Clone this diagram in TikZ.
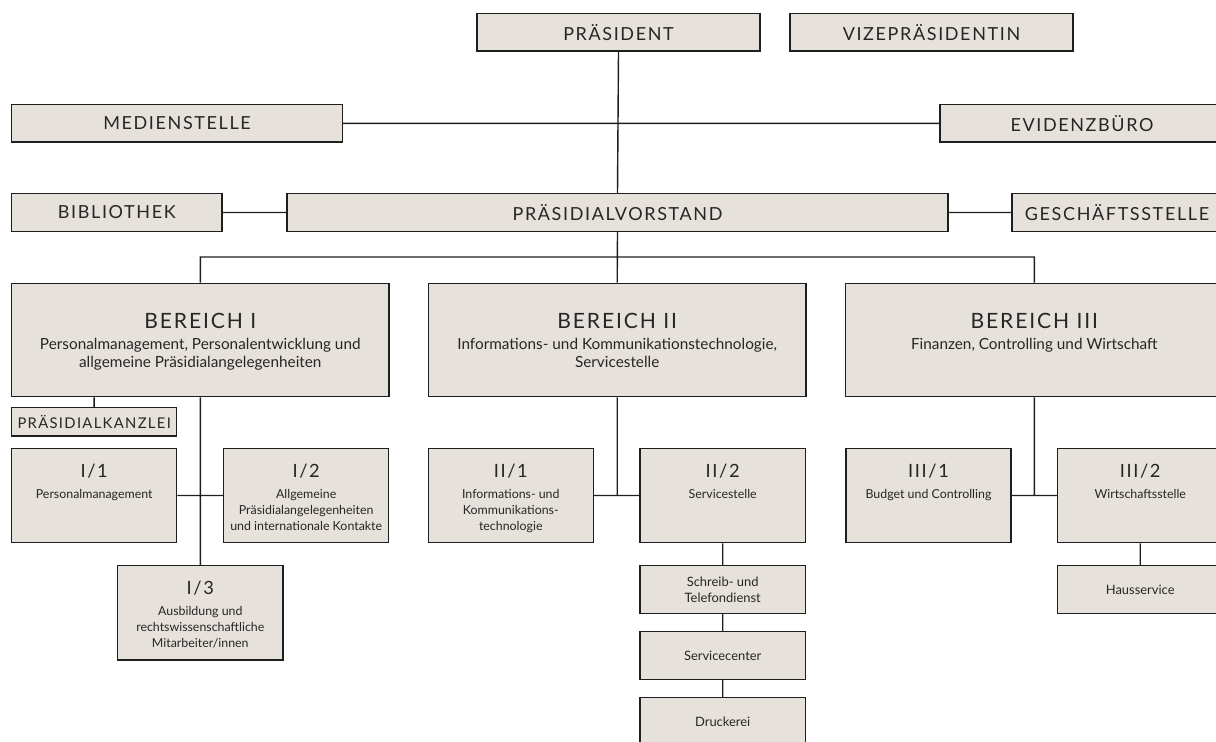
\documentclass[tikz,border=0pt]{standalone}
\usepackage{fontspec}
\setmainfont{Lato}
\newfontfamily\capsfont{Lato}[LetterSpace=9]
\definecolor{boxfill}{HTML}{E7E1DB}
\definecolor{boxline}{HTML}{1E1E1E}
\newdimen\pxu \pxu=0.7113pt
\newcommand{\headbox}[2]{\parbox[c][37.7\pxu][c]{#1\pxu}{\centering\capsfont\fontsize{12.8}{14}\selectfont #2}}
\newcommand{\tagbox}[1]{\parbox[c][28.3\pxu][c]{165\pxu}{\centering\capsfont\fontsize{10.5}{12}\selectfont #1}}
\newcommand{\areabox}[2]{\parbox[c][113.4\pxu][t]{377.3\pxu}{\centering\vspace*{21pt}{\capsfont\fontsize{15}{15}\selectfont #1\par}\vspace{2.6pt}\fontsize{10.9}{12.8}\selectfont #2\par}}
\newcommand{\unitbox}[2]{\parbox[c][94.4\pxu][t]{165\pxu}{\centering\vspace*{11.2pt}{\capsfont\fontsize{13}{13}\selectfont #1\par}\vspace{3.5pt}\fontsize{8.8}{11.4}\selectfont #2\par}}
\newcommand{\smallbox}[1]{\parbox[c][47.6\pxu][c]{165\pxu}{\centering\fontsize{9.2}{11.4}\selectfont #1}}
\tikzset{
	orgbox/.style={draw=boxline,fill=boxfill,line width=1pt,inner sep=0pt,rectangle,text=black!85},
	conn/.style={draw=boxline,line width=1pt},
}
\begin{document}
\begin{tikzpicture}[x=0.025cm,y=-0.025cm]
		\useasboundingbox (0,0) rectangle (1216,742);
		\clip (0,0) rectangle (1216,742);
		\node[orgbox] (pres) at (618.5,32.2) {\headbox{283}{PRÄSIDENT}};
		\node[orgbox] (vize) at (931.5,32.2) {\headbox{283}{VIZEPRÄSIDENTIN}};
		\node[orgbox] (medien) at (177,123.3) {\headbox{330.4}{MEDIENSTELLE}};
		\node[orgbox] (evidenz) at (1082,123.3) {\headbox{284}{EVIDENZBÜRO}};
		\node[orgbox] (biblio) at (116.8,212.5) {\headbox{210.4}{BIBLIOTHEK}};
		\node[orgbox] (vorstand) at (617.5,212.5) {\headbox{661}{PRÄSIDIALVORSTAND}};
		\node[orgbox] (gesch) at (1117,212.5) {\headbox{210}{GESCHÄFTSSTELLE}};
		\coordinate (bus) at (617.5,257);
		\node[orgbox] (b1) at (200.3,340) {\areabox{BEREICH I}{Personalmanagement, Personalentwicklung und\\allgemeine Präsidialangelegenheiten}};
		\node[orgbox] (b2) at (617.2,340) {\areabox{BEREICH II}{Informations- und Kommunikationstechnologie,\\Servicestelle}};
		\node[orgbox] (b3) at (1034.3,340) {\areabox{BEREICH III}{Finanzen, Controlling und Wirtschaft}};
		\node[orgbox] (kanzlei) at (94.2,421.8) {\tagbox{PRÄSIDIALKANZLEI}};
		\node[orgbox] (i1) at (94.2,495.5) {\unitbox{I/1}{Personalmanagement}};
		\node[orgbox] (i2) at (306.2,495.5) {\unitbox{I/2}{Allgemeine\\Präsidialangelegenheiten\\und internationale Kontakte}};
		\node[orgbox] (i3) at (200.3,612.8) {\unitbox{I/3}{Ausbildung und\\rechtswissenschaftliche\\Mitarbeiter/innen}};
		\node[orgbox] (ii1) at (510.8,495.5) {\unitbox{II/1}{Informations- und\\Kommunikations-\\technologie}};
		\node[orgbox] (ii2) at (722.7,495.5) {\unitbox{II/2}{Servicestelle}};
		\node[orgbox] (schreib) at (722.7,589.5) {\smallbox{Schreib- und\\Telefondienst}};
		\node[orgbox] (service) at (722.7,655.5) {\smallbox{Servicecenter}};
		\node[orgbox] (druck) at (722.7,721.5) {\smallbox{Druckerei}};
		\node[orgbox] (iii1) at (928.5,495.5) {\unitbox{III/1}{Budget und Controlling}};
		\node[orgbox] (iii2) at (1140.2,495.5) {\unitbox{III/2}{Wirtschaftsstelle}};
		\node[orgbox] (haus) at (1140.2,589.5) {\smallbox{Hausservice}};
		\draw[conn]
		(pres.south)--(vorstand.north)
		(medien.east)--(evidenz.west)
		(biblio.east)--(vorstand.west)
		(vorstand.east)--(gesch.west)
		(vorstand.south)--(b2.north)
		(b1.north)|-(bus)-|(b3.north)
		(kanzlei.north|-b1.south)--(kanzlei.north)
		(b1.south)--(i3.north)
		(i1.east)--(i2.west)
		(b2.south)--(b2.south|-ii1.east)
		(ii1.east)--(ii2.west)
		(ii2.south)--(schreib.north)
		(schreib.south)--(service.north)
		(service.south)--(druck.north)
		(b3.south)--(b3.south|-iii1.east)
		(iii1.east)--(iii2.west)
		(iii2.south)--(haus.north);
\end{tikzpicture}
\end{document}
